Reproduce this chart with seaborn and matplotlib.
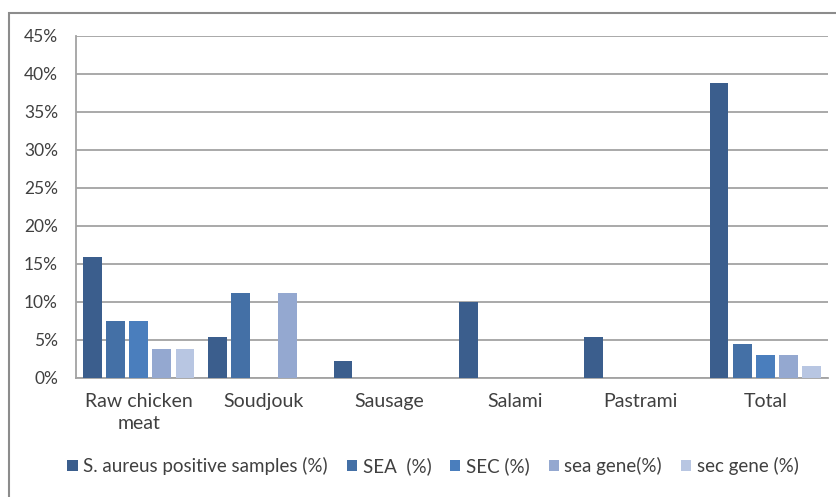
import matplotlib
matplotlib.use("Agg")
import matplotlib.pyplot as plt
from matplotlib.patches import Rectangle
from matplotlib.ticker import FuncFormatter, MultipleLocator
import pandas as pd
import seaborn as sns

# Prevalence of S. aureus and enterotoxins / toxin genes by product type
categories = ["Raw chicken\nmeat", "Soudjouk", "Sausage", "Salami", "Pastrami", "Total"]
series = ["S. aureus positive samples (%)", "SEA  (%)", "SEC (%)", "sea gene(%)", "sec gene (%)"]
s_aureus = [15.8, 5.3, 2.2, 10.0, 5.3, 38.8]
sea = [7.4, 11.1, 0.0, 0.0, 0.0, 4.4]
sec = [7.4, 0.0, 0.0, 0.0, 0.0, 3.0]
sea_gene = [3.7, 11.1, 0.0, 0.0, 0.0, 3.0]
sec_gene = [3.7, 0.0, 0.0, 0.0, 0.0, 1.5]
colors = ["#3b5e8d", "#4470a6", "#4a7ebd", "#94a8d0", "#b8c6e2"]

values = [s_aureus, sea, sec, sea_gene, sec_gene]
rows = []
for name, vals in zip(series, values):
    for cat, v in zip(categories, vals):
        rows.append({"category": cat, "series": name, "value": v})
df = pd.DataFrame(rows)

sns.set_theme(style="white")
plt.rcParams["font.family"] = ["Lato", "DejaVu Sans"]
text_color = "#404040"
grid_color = "#a3a3a3"

fig = plt.figure(figsize=(8.37, 4.97), dpi=100)
ax = fig.add_axes([76 / 837, 1 - 377.5 / 497, (828 - 76) / 837, (377.5 - 35.7) / 497])

sns.barplot(
    data=df, x="category", y="value", hue="series", order=categories,
    hue_order=series, palette=colors, saturation=1, width=0.925, gap=0.19,
    linewidth=0, ax=ax, zorder=3,
)

ax.set_ylim(0, 45)
ax.set_xlim(-0.5, len(categories) - 0.5)
ax.yaxis.set_major_locator(MultipleLocator(5))
ax.yaxis.set_major_formatter(FuncFormatter(lambda v, p: f"{v:.0f}%"))
ax.grid(axis="y", color=grid_color, linewidth=1.3, zorder=0)
ax.set_axisbelow(True)
ax.set_xlabel("")
ax.set_ylabel("")

for side in ["top", "right"]:
    ax.spines[side].set_visible(False)
for side in ["left", "bottom"]:
    ax.spines[side].set_color(grid_color)
    ax.spines[side].set_linewidth(1.3)

ax.tick_params(axis="y", length=0, pad=13, labelsize=12.5, labelcolor=text_color)
ax.tick_params(axis="x", length=0, pad=11, labelsize=14, labelcolor=text_color)
for lbl in ax.get_xticklabels():
    lbl.set_linespacing(1.35)

handles, labels = ax.get_legend_handles_labels()
ax.legend_.remove()
fig.legend(
    handles, labels, loc="center", bbox_to_anchor=(433 / 837, 1 - 466 / 497),
    ncol=5, frameon=False, fontsize=13.5, handlelength=0.55, handleheight=0.55,
    handletextpad=0.3, columnspacing=1.0, labelcolor=text_color,
)

# outer chart border
fig.patches.append(Rectangle(
    (9 / 837, -0.05), 1.2, 1 - 13 / 497 + 0.05, transform=fig.transFigure,
    fill=False, edgecolor="#8c8c8c", linewidth=1.5,
))

fig.savefig("out.png", dpi=100, facecolor="white")
